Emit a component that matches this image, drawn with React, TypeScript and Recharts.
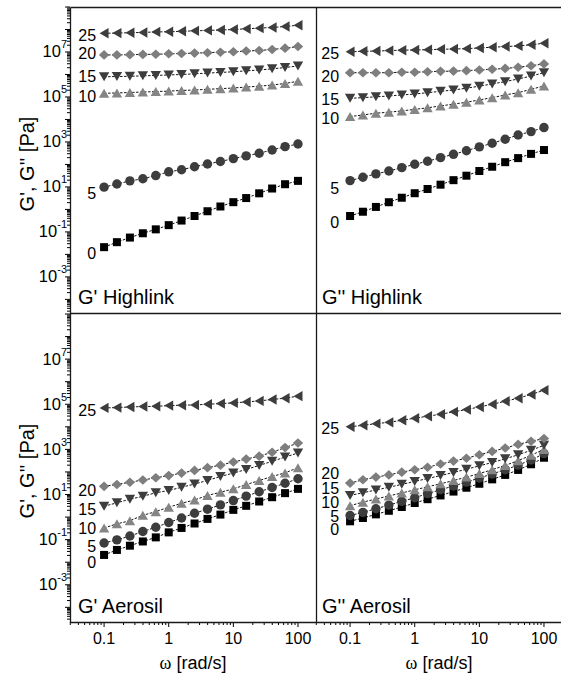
import React from 'react';
import { ScatterChart, Scatter, XAxis, YAxis, ReferenceDot } from 'recharts';

const FONT = '"Liberation Sans", Arial, Helvetica, sans-serif';

// angular frequency (rad/s)
const OMEGA = [0.1, 0.158, 0.251, 0.398, 0.631, 1, 1.58, 2.51, 3.98, 6.31, 10, 15.8, 25.1, 39.8, 63.1, 100];
const SERIES_NAMES = ['0', '5', '10', '15', '20', '25'];

// G' Highlink (shifted curves)
const HL_GP_0 = [0.021, 0.035, 0.056, 0.087, 0.13, 0.2, 0.32, 0.51, 0.83, 1.35, 2.1, 3.2, 5.2, 8.5, 13.2, 18.6];
const HL_GP_5 = [9.8, 13.5, 18.6, 23, 32, 47, 58, 79, 105, 135, 182, 240, 316, 437, 617, 813];
const HL_GP_10 = [1.45e5, 1.51e5, 1.58e5, 1.66e5, 1.74e5, 1.82e5, 1.95e5, 2.04e5, 2.19e5, 2.34e5, 2.51e5, 2.75e5, 3.02e5, 3.39e5, 3.98e5, 5.0e5];
const HL_GP_15 = [7.9e5, 8.1e5, 8.3e5, 8.7e5, 9.1e5, 9.5e5, 1.0e6, 1.07e6, 1.15e6, 1.23e6, 1.32e6, 1.45e6, 1.58e6, 1.78e6, 2.04e6, 2.4e6];
const HL_GP_20 = [7.4e6, 7.4e6, 7.6e6, 7.8e6, 7.9e6, 8.3e6, 8.5e6, 8.9e6, 9.3e6, 9.8e6, 1.02e7, 1.1e7, 1.17e7, 1.29e7, 1.48e7, 1.74e7];
const HL_GP_25 = [6.8e7, 6.9e7, 7.2e7, 7.4e7, 7.8e7, 7.9e7, 8.3e7, 8.7e7, 9.1e7, 9.5e7, 1.0e8, 1.07e8, 1.15e8, 1.23e8, 1.35e8, 1.55e8];
const HL_GP_LABEL_Y = [0.0112, 5.0, 1.02e5, 7.9e5, 8.3e6, 5.4e7];

// G'' Highlink
const HL_GPP_0 = [0.51, 0.79, 1.29, 2.09, 3.31, 5.25, 8.1, 12.6, 20, 31.6, 51, 79, 126, 191, 295, 437];
const HL_GPP_5 = [19, 27, 38, 51, 72, 102, 138, 200, 282, 407, 603, 871, 1318, 2042, 2884, 4365];
const HL_GPP_10 = [1.35e4, 1.58e4, 1.9e4, 2.1e4, 2.4e4, 2.8e4, 3.3e4, 4.0e4, 4.8e4, 5.8e4, 7.4e4, 9.3e4, 1.23e5, 1.55e5, 2.19e5, 3.09e5];
const HL_GPP_15 = [8.7e4, 9.3e4, 1.02e5, 1.1e5, 1.23e5, 1.35e5, 1.55e5, 1.78e5, 2.04e5, 2.45e5, 3.02e5, 3.8e5, 4.8e5, 6.3e5, 8.5e5, 1.2e6];
const HL_GPP_20 = [1.2e6, 1.2e6, 1.2e6, 1.2e6, 1.26e6, 1.26e6, 1.32e6, 1.38e6, 1.41e6, 1.48e6, 1.58e6, 1.7e6, 1.86e6, 2.09e6, 2.45e6, 2.95e6];
const HL_GPP_25 = [1.02e7, 1.07e7, 1.1e7, 1.15e7, 1.2e7, 1.23e7, 1.26e7, 1.32e7, 1.35e7, 1.41e7, 1.51e7, 1.62e7, 1.74e7, 1.86e7, 2.09e7, 2.45e7];
const HL_GPP_LABEL_Y = [0.275, 8.3, 1.07e4, 7.9e4, 8.7e5, 8.7e6];

// G' Aerosil
const AE_GP_0 = [0.021, 0.035, 0.054, 0.083, 0.126, 0.21, 0.33, 0.52, 0.83, 1.29, 2.09, 3.16, 4.9, 7.6, 11.5, 17.8];
const AE_GP_5 = [0.071, 0.098, 0.145, 0.23, 0.355, 0.575, 0.91, 1.48, 2.24, 3.47, 5.4, 8.5, 13.2, 20.4, 31.6, 50];
const AE_GP_10 = [0.33, 0.5, 0.69, 1.2, 1.74, 2.75, 4.07, 5.75, 9.1, 12.6, 17.8, 27.5, 41.7, 63, 91, 155];
const AE_GP_15 = [3.0, 4.3, 6.2, 8.3, 12, 15, 21, 29, 42, 63, 89, 129, 195, 295, 457, 692];
const AE_GP_20 = [23, 28, 35, 44, 55, 69, 89, 117, 155, 200, 275, 372, 501, 741, 1202, 1905];
const AE_GP_25 = [6.9e4, 7.1e4, 7.6e4, 7.9e4, 8.1e4, 8.7e4, 9.1e4, 9.3e4, 1.0e5, 1.07e5, 1.15e5, 1.26e5, 1.41e5, 1.62e5, 1.86e5, 2.29e5];
const AE_GP_LABEL_Y = [0.0102, 0.052, 0.33, 2.3, 15.8, 5.2e4];

// G'' Aerosil
const AE_GPP_0 = [0.65, 0.91, 1.32, 1.9, 2.8, 4.2, 6.2, 9.1, 13.5, 20, 30, 47, 74, 123, 219, 427];
const AE_GPP_5 = [1.17, 1.62, 2.34, 3.39, 5.0, 7.2, 11, 16.2, 24, 35.5, 53.7, 81, 126, 200, 339, 646];
const AE_GPP_10 = [3.2, 4.6, 6.3, 8.7, 11.7, 16.2, 21.9, 30, 41.7, 59, 85, 126, 195, 316, 550, 1000];
const AE_GPP_15 = [9.1, 12, 15.8, 20.9, 28.2, 38, 51, 69, 95, 132, 186, 263, 380, 575, 912, 1514];
const AE_GPP_20 = [32, 45, 59, 74, 98, 126, 162, 224, 302, 407, 575, 813, 1148, 1660, 2291, 3020];
const AE_GPP_25 = [1.0e4, 1.17e4, 1.38e4, 1.58e4, 1.95e4, 2.4e4, 2.95e4, 3.6e4, 4.6e4, 5.8e4, 7.6e4, 1.0e5, 1.35e5, 1.86e5, 2.7e5, 4.2e5];
const AE_GPP_LABEL_Y = [0.275, 1.1, 4.4, 18.6, 91, 8.3e3];

const X_TICK_VALUES = [0.1, 1, 10, 100];
const X_TICK_LABELS = ['0.1', '1', '10', '100'];
const Y_LABEL_EXPONENTS = [-3, -1, 1, 3, 5, 7];

const X_DOMAIN: [number, number] = [0.0297, 190];
const Y_DOMAIN: [number, number] = [2.24e-5, 1e9];

const DARK = '#3d3d3d';
const GRAY = '#858585';
const MARKERS = [
  { kind: 'square', fill: '#000000' },
  { kind: 'circle', fill: DARK },
  { kind: 'up', fill: GRAY },
  { kind: 'down', fill: DARK },
  { kind: 'diamond', fill: '#7e7e7e' },
  { kind: 'left', fill: DARK },
];

function logTicks(lo: number, hi: number) {
  const out: number[] = [];
  for (let d = Math.floor(Math.log10(lo)); d <= Math.ceil(Math.log10(hi)); d++) {
    for (let m = 1; m <= 9; m++) {
      const v = m * Math.pow(10, d);
      if (v >= lo && v <= hi) out.push(v);
    }
  }
  return out;
}
const isDecade = (v: number) => Math.abs(Math.log10(v) - Math.round(Math.log10(v))) < 1e-6;

const X_TICKS = logTicks(X_DOMAIN[0], X_DOMAIN[1]);
const Y_TICKS = logTicks(Y_DOMAIN[0], Y_DOMAIN[1]);

function renderMarker(kind: string, fill: string, cx: number, cy: number) {
  switch (kind) {
    case 'square':
      return <rect x={cx - 4} y={cy - 4} width={8} height={8} fill={fill} />;
    case 'circle':
      return <circle cx={cx} cy={cy} r={4.7} fill={fill} />;
    case 'up':
      return <polygon points={`${cx - 5.2},${cy + 4.5} ${cx + 5.2},${cy + 4.5} ${cx},${cy - 4.5}`} fill={fill} />;
    case 'down':
      return <polygon points={`${cx - 5.2},${cy - 4.5} ${cx + 5.2},${cy - 4.5} ${cx},${cy + 4.5}`} fill={fill} />;
    case 'diamond':
      return <polygon points={`${cx - 5.2},${cy} ${cx},${cy - 4.8} ${cx + 5.2},${cy} ${cx},${cy + 4.8}`} fill={fill} />;
    default:
      return <polygon points={`${cx + 4.5},${cy - 5.2} ${cx + 4.5},${cy + 5.2} ${cx - 4.5},${cy}`} fill={fill} />;
  }
}

const XTick = (p: any) => {
  const { x, y, payload } = p;
  const v = payload.value;
  const dec = isDecade(v);
  const idx = X_TICK_VALUES.findIndex((t) => Math.abs(t - v) / t < 1e-6);
  return (
    <g>
      <line x1={x} x2={x} y1={y} y2={y + (dec ? 5 : 3)} stroke="#000" strokeWidth={1} />
      {idx >= 0 && (
        <text x={x} y={y + 22} textAnchor="middle" fontSize={16} fontFamily={FONT} fill="#000">
          {X_TICK_LABELS[idx]}
        </text>
      )}
    </g>
  );
};

const YTick = (p: any) => {
  const { x, y, payload } = p;
  const v = payload.value;
  const dec = isDecade(v);
  const e = Math.round(Math.log10(v));
  const show = dec && Y_LABEL_EXPONENTS.includes(e);
  return (
    <g>
      <line x1={x} x2={x - (dec ? 5 : 3)} y1={y} y2={y} stroke="#000" strokeWidth={1} />
      {show && (
        <text x={x - 3} y={y + 5.5} textAnchor="end" fontSize={16.5} fontFamily={FONT} fill="#000">
          <tspan>10</tspan>
          <tspan dy={-9} fontSize={11}>{e < 0 ? `-${-e}` : `${e}`}</tspan>
        </text>
      )}
    </g>
  );
};

type PanelDef = {
  series: number[][];
  labelY: number[];
  left: number;
  top: number;
  height: number;
  showX: boolean;
  showY: boolean;
  labelOffset: number;
};

const PANELS: PanelDef[] = [
  { series: [HL_GP_0, HL_GP_5, HL_GP_10, HL_GP_15, HL_GP_20, HL_GP_25], labelY: HL_GP_LABEL_Y, left: 70, top: 7, height: 307, showX: false, showY: true, labelOffset: 8 },
  { series: [HL_GPP_0, HL_GPP_5, HL_GPP_10, HL_GPP_15, HL_GPP_20, HL_GPP_25], labelY: HL_GPP_LABEL_Y, left: 316, top: 7, height: 307, showX: false, showY: false, labelOffset: 11 },
  { series: [AE_GP_0, AE_GP_5, AE_GP_10, AE_GP_15, AE_GP_20, AE_GP_25], labelY: AE_GP_LABEL_Y, left: 70, top: 314, height: 308, showX: true, showY: true, labelOffset: 8 },
  { series: [AE_GPP_0, AE_GPP_5, AE_GPP_10, AE_GPP_15, AE_GPP_20, AE_GPP_25], labelY: AE_GPP_LABEL_Y, left: 316, top: 314, height: 308, showX: true, showY: false, labelOffset: 11 },
];

const PANEL_TITLES = [
  { text: "G' Highlink", x: 78, y: 304 },
  { text: "G'' Highlink", x: 322, y: 304 },
  { text: "G' Aerosil", x: 78, y: 613 },
  { text: "G'' Aerosil", x: 322, y: 613 },
];

const CW = 562;
const CH = 681;
const PW = 246;

function Panel({ def }: { def: PanelDef }) {
  return (
    <div style={{ position: 'absolute', left: 0, top: 0 }}>
      <ScatterChart
        width={CW}
        height={CH}
        margin={{ top: def.top, left: def.left - 1, right: CW - def.left - PW, bottom: CH - def.top - def.height - 1 }}
      >
        <XAxis
          type="number"
          dataKey="x"
          scale="log"
          domain={X_DOMAIN}
          allowDataOverflow
          ticks={X_TICKS}
          interval={0}
          height={1}
          tickSize={0}
          tickMargin={0}
          axisLine={false}
          tickLine={false}
          tick={def.showX ? <XTick /> : false}
        />
        <YAxis
          type="number"
          dataKey="y"
          scale="log"
          domain={Y_DOMAIN}
          allowDataOverflow
          ticks={Y_TICKS}
          interval={0}
          width={1}
          tickSize={0}
          tickMargin={0}
          axisLine={false}
          tickLine={false}
          tick={def.showY ? <YTick /> : false}
        />
        {def.series.map((vals, si) => (
          <Scatter
            key={si}
            name={SERIES_NAMES[si]}
            data={OMEGA.map((x, i) => ({ x, y: vals[i] }))}
            isAnimationActive={false}
            fill={MARKERS[si].fill}
            line={{ stroke: '#111', strokeWidth: 1, strokeDasharray: '2.5 1.5' }}
            shape={(p: any) => renderMarker(MARKERS[si].kind, MARKERS[si].fill, p.cx, p.cy)}
          />
        ))}
        {def.labelY.map((ly, si) => (
          <ReferenceDot
            key={`l${si}`}
            x={OMEGA[0]}
            y={ly}
            r={0}
            fill="none"
            stroke="none"
            label={{ value: SERIES_NAMES[si], position: 'left', offset: def.labelOffset, fontSize: 16, fill: '#000', fontFamily: FONT }}
          />
        ))}
      </ScatterChart>
    </div>
  );
}

export default function App() {
  return (
    <div style={{ position: 'absolute', left: 0, top: 0, width: 561, height: 681, overflow: 'hidden', background: '#fff', fontFamily: FONT }}>
      {PANELS.map((d, i) => (
        <Panel key={i} def={d} />
      ))}
      <svg width={561} height={681} style={{ position: 'absolute', left: 0, top: 0, pointerEvents: 'none' }}>
        <g stroke="#1a1a1a" strokeWidth={1.3} fill="none">
          <line x1={70.5} y1={7.5} x2={562} y2={7.5} />
          <line x1={70.5} y1={7.5} x2={70.5} y2={622.5} />
          <line x1={70.5} y1={622.5} x2={562} y2={622.5} />
          <line x1={70.5} y1={313.5} x2={562} y2={313.5} />
          <line x1={316.5} y1={7.5} x2={316.5} y2={622.5} />
        </g>
        {PANEL_TITLES.map((t, i) => (
          <text key={i} x={t.x} y={t.y} fontSize={20} fontFamily={FONT} fill="#000">
            {t.text}
          </text>
        ))}
        <text x={27} y={164} transform="rotate(-90, 27, 164)" textAnchor="middle" dominantBaseline="central" fontSize={20} fontFamily={FONT} fill="#000">
          G', G'' [Pa]
        </text>
        <text x={27} y={471} transform="rotate(-90, 27, 471)" textAnchor="middle" dominantBaseline="central" fontSize={20} fontFamily={FONT} fill="#000">
          G', G'' [Pa]
        </text>
        <text x={193} y={669} textAnchor="middle" fontSize={18} fontFamily={FONT} fill="#000">
          <tspan fontFamily='"Liberation Serif", "DejaVu Serif", serif'>ω</tspan> [rad/s]
        </text>
        <text x={439} y={669} textAnchor="middle" fontSize={18} fontFamily={FONT} fill="#000">
          <tspan fontFamily='"Liberation Serif", "DejaVu Serif", serif'>ω</tspan> [rad/s]
        </text>
      </svg>
    </div>
  );
}
